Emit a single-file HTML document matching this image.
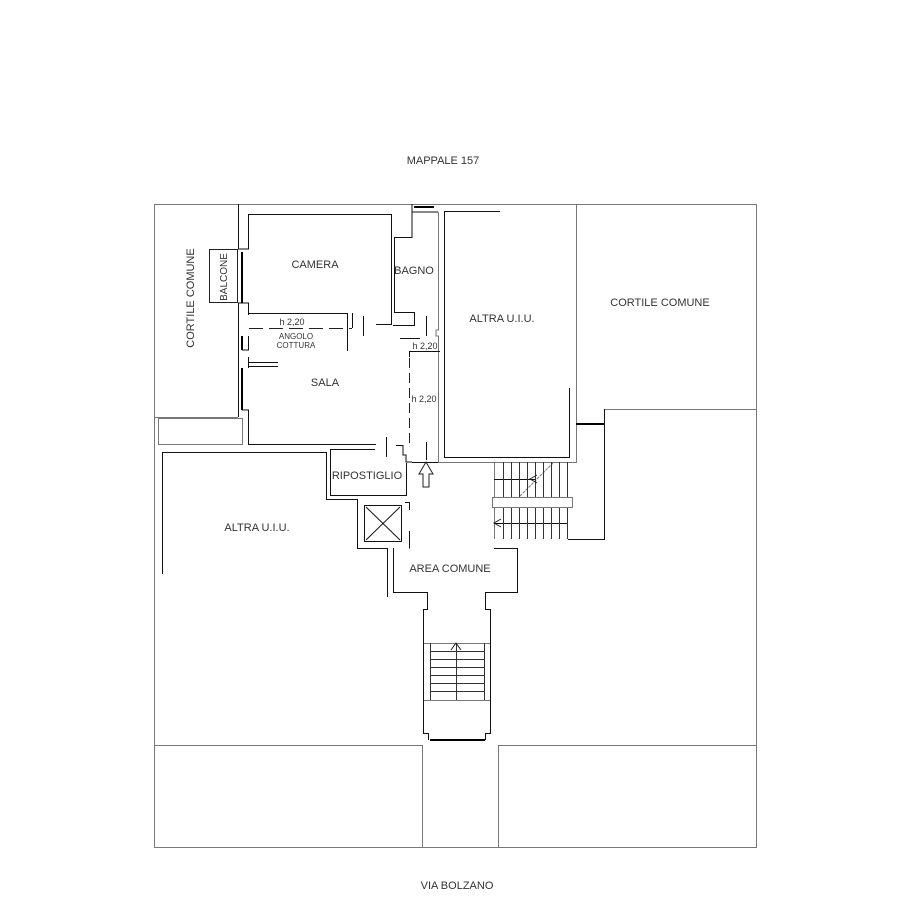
<!DOCTYPE html>
<html><head><meta charset="utf-8"><style>
html,body{margin:0;padding:0;background:#fff;}
svg{display:block}
text{font-family:"Liberation Sans",sans-serif;font-size:11px;fill:#333;}
</style></head><body>
<svg width="908" height="899" viewBox="0 0 908 899" xmlns="http://www.w3.org/2000/svg">
<g fill="none" stroke="#777" stroke-width="1">
<rect x="154.5" y="204.5" width="602" height="643"/>
<line x1="154" y1="745.5" x2="422" y2="745.5"/>
<line x1="498" y1="745.5" x2="757" y2="745.5"/>
<line x1="422.5" y1="745" x2="422.5" y2="848"/>
<line x1="498.5" y1="745" x2="498.5" y2="848"/>
<line x1="604" y1="409.5" x2="757" y2="409.5"/>
<line x1="154" y1="417.5" x2="238" y2="417.5"/>
<rect x="158.5" y="418.5" width="84" height="26"/>
<polyline points="438.5,212 438.5,330 436,330 436,336 438.5,336 438.5,462.5 576.5,462.5 576.5,204"/>
<line x1="423" y1="643.5" x2="490" y2="643.5"/>
<line x1="423" y1="700.5" x2="490" y2="700.5"/>
<line x1="494.5" y1="462" x2="494.5" y2="539"/>
<rect x="492.5" y="497.5" width="80" height="10" fill="#fff"/>
<line x1="520" y1="496" x2="553" y2="463" stroke-dasharray="3,1"/>
</g>
<g fill="none" stroke="#111" stroke-width="1">
<line x1="238.5" y1="204" x2="238.5" y2="249"/>
<line x1="238.5" y1="303" x2="238.5" y2="417"/>
<polyline points="238,249 248.5,249 248.5,214.5 391.5,214.5 391.5,324.5 376,324.5"/>
<polyline points="238,303 248.5,303 248.5,315"/>
<polyline points="248.5,336 248.5,350 242,350"/>
<polyline points="242,410 248.5,410 248.5,444.5 376,444.5"/>
<polyline points="248.5,357 248.5,368"/>
<polyline points="412,204 412,212 438,212"/>
<polyline points="412,212 412,237.5 394.5,237.5 394.5,312.5 414.5,312.5 414.5,325.5 393,325.5"/>
<polyline points="249,313.5 347.5,313.5 347.5,351"/>
<polyline points="352.5,313 352.5,328"/>
<line x1="363.5" y1="316" x2="363.5" y2="336"/>
<line x1="426.5" y1="316" x2="426.5" y2="336"/>
<line x1="249" y1="362.5" x2="278" y2="362.5"/>
<line x1="249" y1="366.5" x2="278" y2="366.5"/>
<line x1="400" y1="338.5" x2="420" y2="338.5"/>
<polyline points="409.5,357 409.5,351.5 440,351.5"/>
<line x1="386.5" y1="437" x2="386.5" y2="457"/>
<line x1="426.5" y1="442" x2="426.5" y2="460"/>
<polyline points="500,211.5 444.5,211.5 444.5,457.5 569.5,457.5 569.5,388"/>
<polyline points="396,445.5 403,445.5 403,455 406,455 406,462 412,462"/>
<line x1="412" y1="462.5" x2="438" y2="462.5"/>
<polyline points="162.5,574 162.5,452.5 326.5,452.5 326.5,499.5 357.5,499.5 357.5,548.5 387.5,548.5 387.5,597"/>
<polyline points="330.5,449 330.5,495.5 406.5,495.5 406.5,463"/>
<polyline points="330,449.5 375,449.5"/>
<polyline points="405,502.5 409.5,502.5 409.5,510"/>
<polyline points="409.5,531 409.5,548.5"/>
<rect x="364.5" y="505.5" width="37" height="36"/>
<line x1="366" y1="507" x2="400" y2="540"/>
<line x1="400" y1="507" x2="366" y2="540"/>
<polyline points="393.5,548 393.5,592.5 427.5,592.5 427.5,609.5 423.5,609.5 423.5,733.5 428.5,733.5 428.5,740"/>
<polyline points="494,548.5 517.5,548.5 517.5,592.5 485.5,592.5 485.5,609.5 490.5,609.5 490.5,733.5 485.5,733.5 485.5,740"/>
<polyline points="568,539.5 604.5,539.5 604.5,409"/>
<line x1="494" y1="479.5" x2="535" y2="479.5"/>
<line x1="494" y1="523.5" x2="568" y2="523.5"/>
</g>
<g stroke="#333" stroke-width="1">
<line x1="503.5" y1="462" x2="503.5" y2="497"/><line x1="511.5" y1="462" x2="511.5" y2="497"/>
<line x1="519.5" y1="462" x2="519.5" y2="497"/><line x1="527.5" y1="462" x2="527.5" y2="497"/>
<line x1="535.5" y1="462" x2="535.5" y2="497"/><line x1="543.5" y1="462" x2="543.5" y2="497"/>
<line x1="551.5" y1="462" x2="551.5" y2="497"/><line x1="559.5" y1="462" x2="559.5" y2="497"/>
<line x1="567.5" y1="462" x2="567.5" y2="497"/>
<line x1="503.5" y1="508" x2="503.5" y2="539"/><line x1="511.5" y1="508" x2="511.5" y2="539"/>
<line x1="519.5" y1="508" x2="519.5" y2="539"/><line x1="527.5" y1="508" x2="527.5" y2="539"/>
<line x1="535.5" y1="508" x2="535.5" y2="539"/><line x1="543.5" y1="508" x2="543.5" y2="539"/>
<line x1="551.5" y1="508" x2="551.5" y2="539"/><line x1="559.5" y1="508" x2="559.5" y2="539"/>
<line x1="567.5" y1="508" x2="567.5" y2="539"/>
<line x1="430.5" y1="643" x2="430.5" y2="700"/><line x1="484.5" y1="643" x2="484.5" y2="700"/>
<line x1="456.5" y1="643" x2="456.5" y2="700"/>
<line x1="430" y1="651.5" x2="484" y2="651.5"/><line x1="430" y1="659.5" x2="484" y2="659.5"/>
<line x1="430" y1="667.5" x2="484" y2="667.5"/><line x1="430" y1="675.5" x2="484" y2="675.5"/>
<line x1="430" y1="683.5" x2="484" y2="683.5"/><line x1="430" y1="691.5" x2="484" y2="691.5"/>
</g>
<g fill="none" stroke="#000" stroke-width="2">
<line x1="242" y1="252" x2="242" y2="303"/>
<line x1="242" y1="336" x2="242" y2="350"/>
<line x1="242" y1="368" x2="242" y2="410"/>
<line x1="414" y1="207" x2="434" y2="207"/>
<line x1="576" y1="424" x2="604" y2="424"/>
<line x1="430" y1="740" x2="485" y2="740"/>
</g>
<g fill="none" stroke="#222" stroke-width="1">
<rect x="209.5" y="249.5" width="28" height="53"/>
<line x1="249" y1="328.5" x2="352" y2="328.5" stroke-dasharray="14,6"/>
<line x1="409.5" y1="358" x2="409.5" y2="445" stroke-dasharray="10,5"/>
<polygon points="426,462 433,474 429,474 429,487 423,487 423,474 419,474"/>
<polyline points="537,475 530,479 537,483"/>
<polyline points="501,519 494,523 501,527"/>
<polyline points="451,650 456,643 461,650"/>
</g>
<text x="443" y="164" text-anchor="middle">MAPPALE 157</text>
<text x="457" y="889" text-anchor="middle">VIA BOLZANO</text>
<text x="660" y="306" text-anchor="middle">CORTILE COMUNE</text>
<text x="502" y="322" text-anchor="middle">ALTRA U.I.U.</text>
<text x="257" y="531" text-anchor="middle">ALTRA U.I.U.</text>
<text x="315" y="268" text-anchor="middle">CAMERA</text>
<text x="414" y="274" text-anchor="middle">BAGNO</text>
<text x="325" y="386" text-anchor="middle">SALA</text>
<text x="367" y="479" text-anchor="middle">RIPOSTIGLIO</text>
<text x="450" y="572" text-anchor="middle">AREA COMUNE</text>
<text x="292" y="325" text-anchor="middle" style="font-size:9px">h 2,20</text>
<text x="296" y="339" text-anchor="middle" style="font-size:8px">ANGOLO</text>
<text x="296" y="348" text-anchor="middle" style="font-size:8px">COTTURA</text>
<text x="425" y="349" text-anchor="middle" style="font-size:9px">h 2,20</text>
<text x="424" y="402" text-anchor="middle" style="font-size:9px">h 2,20</text>
<text transform="translate(194,298) rotate(-90)" text-anchor="middle">CORTILE COMUNE</text>
<text transform="translate(227,277) rotate(-90)" text-anchor="middle" style="font-size:10px">BALCONE</text>
</svg>
</body></html>
